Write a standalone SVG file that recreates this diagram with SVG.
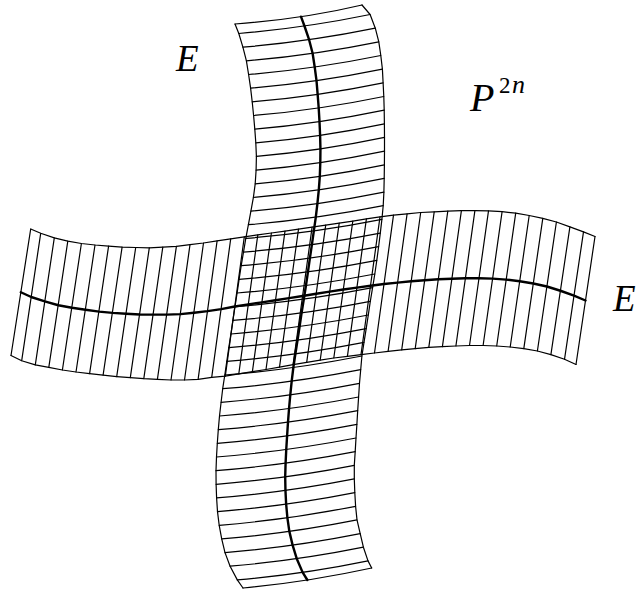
<svg xmlns="http://www.w3.org/2000/svg" width="638" height="590" viewBox="0 0 638 590">
<style>
.thin{fill:none;stroke:#000;stroke-width:1.2;stroke-linejoin:round;stroke-linecap:round}
.core{fill:none;stroke:#000;stroke-width:2.4;stroke-linejoin:round;stroke-linecap:round}
.lbl{font-family:"Liberation Serif","Times New Roman",serif;font-style:italic;fill:#000}
.rom{font-family:"Liberation Serif","Times New Roman",serif;fill:#000}
</style>
<rect width="638" height="590" fill="#fff"/>
<g id="vertical-strip">
<path class="thin" d="M235 24L238.8 33.5L242.9 47.2L246.4 60.8L248.6 74.5L250.6 88.1L252.2 101.8L253.6 115.5L254.8 129.1L255.8 142.8L256.4 156.4L256.1 170.1L255.2 183.8L253.4 197.4L250.9 211.1L248.4 224.7L245.8 238.4L243.5 252.1L241.2 265.7L239.1 279.4L237.1 293L235 306.7L232.9 320.4L230.9 334L228.8 347.7L226.8 361.3L224.8 375L222.7 388.7L221.1 402.3L219.5 416L218.3 429.6L217.3 443.3L216.5 457L216 470.6L216.1 484.3L216.6 497.9L217.5 511.6L219.2 525.3L221.7 538.9L225 552.6L230.1 566.2L237.3 579.9L243 588"/>
<path class="thin" d="M362 5L370.1 14.5L375.3 28.2L378.8 41.8L380.8 55.5L382.4 69.1L383.1 82.8L383.8 96.5L384.2 110.1L384.4 123.8L384.5 137.4L384.5 151.1L384.4 164.8L384.2 178.4L383.9 192.1L383.2 205.7L381.9 219.4L380.3 233.1L378.6 246.7L376.8 260.4L374.8 274L372.6 287.7L370.3 301.4L368.3 315L366.2 328.7L364 342.3L361.9 356L360.7 369.7L359.5 383.3L358.6 397L357.7 410.6L356.9 424.3L356 438L355.2 451.6L354.3 465.3L354.3 478.9L354.8 492.6L355.6 506.3L357 519.9L360.2 533.6L363.4 547.2L368 560.9L371.7 568"/>
<path class="thin" d="M235 24Q303.5 18.9 362 5M243 588Q307.35 582 371.7 568"/>
<path class="thin" d="M238.8 33.5Q304.45 28 370.1 14.5M242.9 47.2Q309.1 41.7 375.3 28.2M246.4 60.8Q312.6 55.3 378.8 41.8M248.6 74.5Q314.7 69 380.8 55.5M250.6 88.1Q316.5 82.6 382.4 69.1M252.2 101.8Q317.65 96.3 383.1 82.8M253.6 115.5Q318.7 110 383.8 96.5M254.8 129.1Q319.5 123.6 384.2 110.1M255.8 142.8Q320.1 137.3 384.4 123.8M256.4 156.4Q320.45 150.9 384.5 137.4M256.1 170.1Q320.3 164.6 384.5 151.1M255.2 183.8Q319.8 178.3 384.4 164.8M253.4 197.4Q318.8 191.9 384.2 178.4M250.9 211.1Q317.4 205.6 383.9 192.1M248.4 224.7Q315.8 219.2 383.2 205.7M245.8 238.4Q313.85 232.9 381.9 219.4M243.5 252.1Q311.9 246.6 380.3 233.1M241.2 265.7Q309.9 260.2 378.6 246.7M239.1 279.4Q307.95 273.9 376.8 260.4M237.1 293Q305.95 287.5 374.8 274M235 306.7Q303.8 301.2 372.6 287.7M232.9 320.4Q301.6 314.9 370.3 301.4M230.9 334Q299.6 328.5 368.3 315M228.8 347.7Q297.5 342.2 366.2 328.7M226.8 361.3Q295.4 355.8 364 342.3M224.8 375Q293.35 369.5 361.9 356M222.7 388.7Q291.7 383.2 360.7 369.7M221.1 402.3Q290.3 396.8 359.5 383.3M219.5 416Q289.05 410.5 358.6 397M218.3 429.6Q288 424.1 357.7 410.6M217.3 443.3Q287.1 437.8 356.9 424.3M216.5 457Q286.25 451.5 356 438M216 470.6Q285.6 465.1 355.2 451.6M216.1 484.3Q285.2 478.8 354.3 465.3M216.6 497.9Q285.45 492.4 354.3 478.9M217.5 511.6Q286.15 506.1 354.8 492.6M219.2 525.3Q287.4 519.8 355.6 506.3M221.7 538.9Q289.35 533.4 357 519.9M225 552.6Q292.6 547.1 360.2 533.6M230.1 566.2Q296.75 560.7 363.4 547.2M237.3 579.9Q302.65 574.4 368 560.9"/>
</g>
<g id="horizontal-strip">
<path class="thin" d="M30.7 229L40.7 233.3L54.3 237.9L67.8 241.2L81.4 243.5L95 245L108.6 246.1L122.1 247.1L135.7 247.5L149.3 247.8L162.8 247.1L176.4 246.3L190 244.7L203.5 243L217.1 240.9L230.7 238.9L244.3 236.8L257.8 234.9L271.4 233L285 231.1L298.5 229.1L312.1 227.2L325.7 225.1L339.2 223.1L352.8 221.1L366.4 218.9L380 216.8L393.5 215.1L407.1 213.8L420.7 212.5L434.2 211.8L447.8 211.1L461.4 210.7L474.9 210.6L488.5 210.9L502.1 211.7L515.7 213.2L529.2 215.5L542.8 218.3L556.4 222L569.9 226.9L583.5 231.9L595 236.5"/>
<path class="thin" d="M11 355.5L21.7 360.7L35.3 364.9L48.8 367.3L62.4 370L76 372L89.6 373.6L103.1 375.2L116.7 376.6L130.3 377.7L143.8 378.7L157.4 379.4L171 380L184.5 380L198.1 379.3L211.7 377.3L225.3 376.1L238.8 373.9L252.4 371.7L266 369.5L279.5 367.1L293.1 364.7L306.7 362.4L320.2 360.1L333.8 358L347.4 356.3L361 354.6L374.5 353L388.1 351.4L401.7 349.9L415.2 348.6L428.8 347.4L442.4 346.7L455.9 346L469.5 345.5L483.1 345.5L496.7 346L510.2 347L523.8 348.7L537.4 351L550.9 354.6L564.5 359.3L576 364.5"/>
<path class="thin" d="M30.7 229L11 355.5M595 236.5L576 364.5"/>
<path class="thin" d="M40.7 233.3L21.7 360.7M54.3 237.9L35.3 364.9M67.8 241.2L48.8 367.3M81.4 243.5L62.4 370M95 245L76 372M108.6 246.1L89.6 373.6M122.1 247.1L103.1 375.2M135.7 247.5L116.7 376.6M149.3 247.8L130.3 377.7M162.8 247.1L143.8 378.7M176.4 246.3L157.4 379.4M190 244.7L171 380M203.5 243L184.5 380M217.1 240.9L198.1 379.3M230.7 238.9L211.7 377.3M244.3 236.8L225.3 376.1M257.8 234.9L238.8 373.9M271.4 233L252.4 371.7M285 231.1L266 369.5M298.5 229.1L279.5 367.1M312.1 227.2L293.1 364.7M325.7 225.1L306.7 362.4M339.2 223.1L320.2 360.1M352.8 221.1L333.8 358M366.4 218.9L347.4 356.3M380 216.8L361 354.6M393.5 215.1L374.5 353M407.1 213.8L388.1 351.4M420.7 212.5L401.7 349.9M434.2 211.8L415.2 348.6M447.8 211.1L428.8 347.4M461.4 210.7L442.4 346.7M474.9 210.6L455.9 346M488.5 210.9L469.5 345.5M502.1 211.7L483.1 345.5M515.7 213.2L496.7 346M529.2 215.5L510.2 347M542.8 218.3L523.8 348.7M556.4 222L537.4 351M569.9 226.9L550.9 354.6M583.5 231.9L564.5 359.3"/>
</g>
<g id="core-curves">
<path class="core" d="M301 16.7L304.45 26L309.1 39.7L312.6 53.3L314.7 67L316.5 80.6L317.65 94.3L318.7 108L319.5 121.6L320.1 135.3L320.45 148.9L320.3 162.6L319.8 176.3L318.8 189.9L317.4 203.6L315.8 217.2L313.85 230.9L311.9 244.6L309.9 258.2L307.95 271.9L305.95 285.5L303.8 299.2L301.6 312.9L299.6 326.5L297.5 340.2L295.4 353.8L293.35 367.5L291.7 381.2L290.3 394.8L289.05 408.5L288 422.1L287.1 435.8L286.25 449.5L285.6 463.1L285.2 476.8L285.45 490.4L286.15 504.1L287.4 517.8L289.35 531.4L292.6 545.1L296.75 558.7L302.65 572.4L307.35 580"/>
<path class="core" d="M20.85 292.25L31.2 297L44.8 301.4L58.3 305.25L71.9 307.75L85.5 309.75L99.1 311.6L112.6 312.9L126.2 313.8L139.8 314.5L153.3 314.65L166.9 314.6L180.5 314.1L194 312.75L207.6 311.1L221.2 309.1L234.8 306.45L248.3 304.4L261.9 302.35L275.5 300.3L289 298.1L302.6 295.95L316.2 293.75L329.7 291.6L343.3 289.55L356.9 287.6L370.5 285.7L384 284.05L397.6 282.6L411.2 281.2L424.7 280.2L438.3 279.25L451.9 278.7L465.4 278.3L479 278.2L492.6 278.6L506.2 279.6L519.7 281.25L533.3 283.5L546.9 286.5L560.4 290.75L574 295.6L585.5 300.5"/>
</g>
<g id="labels">
<text class="lbl" x="176" y="70.7" font-size="37">E</text>
<text class="lbl" x="613" y="310.7" font-size="37">E</text>
<text class="lbl" x="470" y="111.3" font-size="40">P</text>
<text class="rom" x="499" y="92.7" font-size="23">2</text>
<text class="lbl" x="512" y="92.7" font-size="26">n</text>
</g>
</svg>
